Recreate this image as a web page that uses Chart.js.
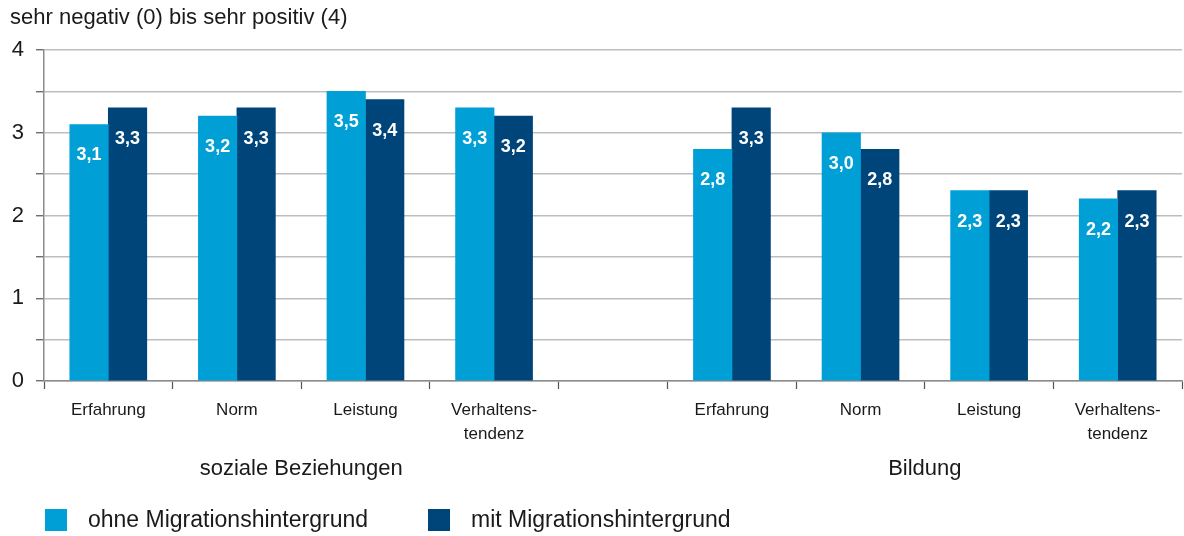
<!DOCTYPE html>
<html>
<head>
<meta charset="utf-8">
<script src="https://cdn.jsdelivr.net/npm/chart.js@4.4.1/dist/chart.umd.min.js"></script>
<style>
  html, body { margin: 0; padding: 0; background: #ffffff; }
  #wrap { width: 1184px; height: 536px; position: relative; }
</style>
</head>
<body>
<div id="wrap"><canvas id="c"></canvas></div>
<script>
// ---- data ----
const groups = ['soziale Beziehungen', 'Bildung'];
const aspects = ['Erfahrung', 'Norm', 'Leistung', 'Verhaltens-\ntendenz'];
const seriesNames = ['ohne Migrationshintergrund', 'mit Migrationshintergrund'];
const ohne = [3.1, 3.2, 3.5, 3.3, 2.8, 3.0, 2.3, 2.2];
const mit  = [3.3, 3.3, 3.4, 3.2, 3.3, 2.8, 2.3, 2.3];
const yTickLabels = [0, 1, 2, 3, 4];
const yAxisTitle = 'sehr negativ (0) bis sehr positiv (4)';

// ---- layout helpers (positions on the x scale) ----
const GAP = 0.85;                         // width of the empty slot between the groups
const perGroup = aspects.length;
function slotPos(k) { return k + 0.5 + (k >= perGroup ? GAP : 0); }
const xMax = perGroup * 2 + GAP;
const categoryLabels = [];
groups.forEach(() => aspects.forEach(a => categoryLabels.push(a)));

const colLight = '#009fd6';
const colDark = '#00457a';
const textCol = '#1a1a1a';
const FONT = '"Liberation Sans", Arial, sans-serif';

function toPts(arr) { return arr.map((v, k) => ({ x: slotPos(k), y: v })); }

const valueLabels = {
  id: 'valueLabels',
  afterDatasetsDraw(chart) {
    const ctx = chart.ctx;
    ctx.save();
    ctx.fillStyle = '#ffffff';
    ctx.font = 'bold 18px ' + FONT;
    ctx.textAlign = 'center';
    ctx.textBaseline = 'middle';
    chart.data.datasets.forEach((ds, di) => {
      const meta = chart.getDatasetMeta(di);
      meta.data.forEach((bar, i) => {
        const v = ds.data[i].y;
        ctx.fillText(v.toFixed(1).replace('.', ','), bar.x, bar.y + 31);
      });
    });
    ctx.restore();
  }
};

const axisTexts = {
  id: 'axisTexts',
  afterDraw(chart) {
    const ctx = chart.ctx;
    const xs = chart.scales.x;
    const bottom = chart.chartArea.bottom;
    ctx.save();
    ctx.fillStyle = textCol;
    ctx.textAlign = 'center';
    ctx.textBaseline = 'middle';
    // category labels
    ctx.font = '17px ' + FONT;
    categoryLabels.forEach((lab, k) => {
      const x = xs.getPixelForValue(slotPos(k));
      lab.split('\n').forEach((line, li) => {
        ctx.fillText(line, x, bottom + 29 + li * 24);
      });
    });
    // group labels
    ctx.font = '22px ' + FONT;
    groups.forEach((g, gi) => {
      const first = slotPos(gi * perGroup) - 0.5;
      const last = slotPos(gi * perGroup + perGroup - 1) + 0.5;
      const x = xs.getPixelForValue((first + last) / 2);
      ctx.fillText(g, x, bottom + 88);
    });
    // legend
    ctx.font = '23px ' + FONT;
    const colors = chart.data.datasets.map(d => d.backgroundColor);
    let lx = 45;
    const ly = bottom + 139;
    ctx.textAlign = 'left';
    seriesNames.forEach((name, i) => {
      ctx.fillStyle = colors[i];
      ctx.fillRect(lx, ly - 11, 22, 22);
      ctx.fillStyle = textCol;
      ctx.fillText(name, lx + 43, ly + 1);
      lx = lx + 43 + ctx.measureText(name).width + 60;
    });
    ctx.restore();
  }
};

new Chart(document.getElementById('c'), {
  type: 'bar',
  data: {
    datasets: [
      { label: seriesNames[0], data: toPts(ohne), backgroundColor: colLight, borderWidth: 0 },
      { label: seriesNames[1], data: toPts(mit), backgroundColor: colDark, borderWidth: 0 }
    ]
  },
  options: {
    responsive: true,
    maintainAspectRatio: false,
    animation: false,
    barThickness: 38.5,
    layout: { padding: { left: 10, right: 2, top: 0, bottom: 0 } },
    plugins: {
      legend: { display: false },
      tooltip: { enabled: false },
      title: {
        display: true,
        text: yAxisTitle,
        align: 'start',
        color: textCol,
        font: { family: FONT, size: 22, weight: 'normal' },
        padding: { top: 5, bottom: 18.6 }
      }
    },
    scales: {
      x: {
        type: 'linear',
        min: 0,
        max: xMax,
        offset: false,
        afterBuildTicks(scale) {
          const t = [];
          for (let k = 0; k < categoryLabels.length; k++) t.push({ value: slotPos(k) - 0.5 });
          t.push({ value: perGroup });
          t.push({ value: xMax });
          t.sort((a, b) => a.value - b.value);
          scale.ticks = t;
        },
        afterFit(scale) { scale.height = 155; },
        ticks: { display: false },
        grid: { offset: false, drawOnChartArea: false, drawTicks: true, tickLength: 8, tickColor: '#555555', tickWidth: 1.2 },
        border: { color: '#8c8c8c', width: 1.5 }
      },
      y: {
        min: 0,
        max: 4,
        afterFit(scale) { scale.width = 34; },
        ticks: {
          stepSize: 0.5,
          padding: 12,
          color: textCol,
          font: { family: FONT, size: 22 },
          callback: (v) => yTickLabels.includes(v) ? String(v) : ''
        },
        grid: { color: '#bdbdbd', lineWidth: 1.5, tickLength: 8, tickColor: '#555555', tickWidth: 1.2 },
        border: { color: '#8c8c8c', width: 1.5 }
      }
    }
  },
  plugins: [valueLabels, axisTexts]
});
</script>
</body>
</html>
